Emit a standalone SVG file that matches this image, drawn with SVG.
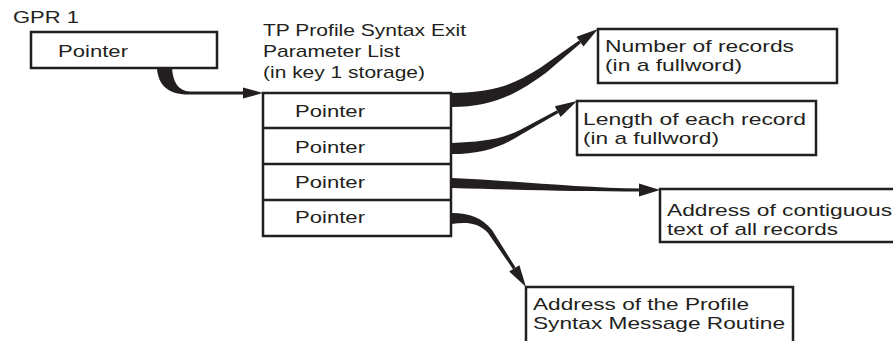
<svg xmlns="http://www.w3.org/2000/svg" width="893" height="341" viewBox="0 0 893 341">
<style>
.box{fill:#fff;stroke:#231f20;stroke-width:2.5}
.t{font-family:"Liberation Sans",Arial,sans-serif;font-size:17px;fill:#231f20}
.c{fill:#231f20;stroke:none}
</style>
<rect width="893" height="341" fill="#fff"/>
<text class="t" x="13" y="23" textLength="66" lengthAdjust="spacingAndGlyphs">GPR 1</text>
<g id="gpr1">
<rect class="box" x="31" y="32" width="186" height="36"/>
<text class="t" x="58" y="57" textLength="70" lengthAdjust="spacingAndGlyphs">Pointer</text>
</g>
<g id="title">
<text class="t" x="263" y="36" textLength="203" lengthAdjust="spacingAndGlyphs">TP Profile Syntax Exit</text>
<text class="t" x="263" y="57" textLength="137" lengthAdjust="spacingAndGlyphs">Parameter List</text>
<text class="t" x="263" y="78" textLength="162" lengthAdjust="spacingAndGlyphs">(in key 1 storage)</text>
</g>
<g id="plist">
<rect class="box" x="263" y="93" width="188" height="143"/>
<line class="box" x1="263" y1="128" x2="451" y2="128"/>
<line class="box" x1="263" y1="164" x2="451" y2="164"/>
<line class="box" x1="263" y1="200" x2="451" y2="200"/>
<text class="t" x="295" y="117" textLength="70" lengthAdjust="spacingAndGlyphs">Pointer</text>
<text class="t" x="295" y="153" textLength="70" lengthAdjust="spacingAndGlyphs">Pointer</text>
<text class="t" x="295" y="188" textLength="70" lengthAdjust="spacingAndGlyphs">Pointer</text>
<text class="t" x="295" y="223" textLength="70" lengthAdjust="spacingAndGlyphs">Pointer</text>
</g>
<g id="numrec">
<rect class="box" x="598" y="29" width="239" height="54"/>
<text class="t" x="605" y="51.5" textLength="189" lengthAdjust="spacingAndGlyphs">Number of records</text>
<text class="t" x="605" y="70.5" textLength="137" lengthAdjust="spacingAndGlyphs">(in a fullword)</text>
</g>
<g id="lenrec">
<rect class="box" x="577" y="101" width="239" height="54"/>
<text class="t" x="583" y="124.5" textLength="223" lengthAdjust="spacingAndGlyphs">Length of each record</text>
<text class="t" x="583" y="143.5" textLength="136" lengthAdjust="spacingAndGlyphs">(in a fullword)</text>
</g>
<g id="addrtext">
<rect class="box" x="660" y="189" width="240" height="53"/>
<text class="t" x="667" y="216" textLength="225" lengthAdjust="spacingAndGlyphs">Address of contiguous</text>
<text class="t" x="667" y="235" textLength="171" lengthAdjust="spacingAndGlyphs">text of all records</text>
</g>
<g id="routine">
<rect class="box" x="526" y="287" width="267" height="60"/>
<text class="t" x="533" y="309.5" textLength="216" lengthAdjust="spacingAndGlyphs">Address of the Profile</text>
<text class="t" x="533" y="328.5" textLength="252" lengthAdjust="spacingAndGlyphs">Syntax Message Routine</text>
</g>
<g id="connectors">
<path class="c" d="M172,68 C173,82 178,91 190,91.5 L246,91.5 L246,94.5 L190,94.5 C168,95 158,85 157,68 Z"/>
<polygon class="c" points="243,87.5 263,93 243,98.5"/>
<path class="c" d="M452,93 C492,92 512,86 540,68 L579.1,40.5 L580.9,42.9 L547,72 C515,96 490,107 452,107 Z"/>
<polygon class="c" points="598,29 583.5,46.6 576.5,36.8"/>
<path class="c" d="M452,143 C480,142 500,140 520,130 L557,110.3 L558.4,112.9 L522,134 C500,148 480,154 452,154 Z"/>
<polygon class="c" points="577,101 560.6,116.9 554.8,106.3"/>
<path class="c" d="M452,178 C520,181 580,188 641,188.5 L641,191.5 C580,191.5 520,190 452,188 Z"/>
<polygon class="c" points="639,183.5 660,190 639,196.5"/>
<path class="c" d="M452,213 C470,213 482,218 492,230 L515.6,267.6 L513,269.2 L488,233 C478,222 465,222 452,224 Z"/>
<polygon class="c" points="526,287 519.4,265.2 509.2,271.6"/>
</g>
</svg>
